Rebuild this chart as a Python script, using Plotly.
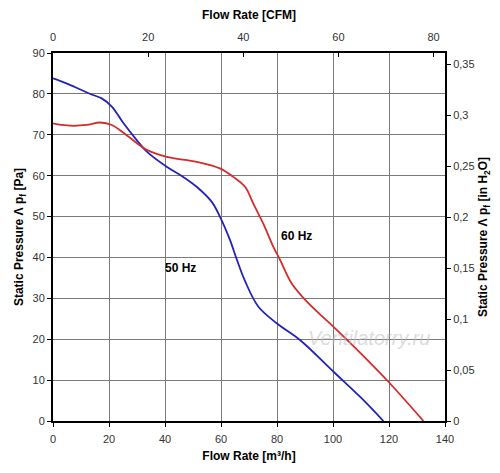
import plotly.graph_objects as go

# 50 Hz curve: flow [m3/h], static pressure [Pa]
flow_50 = [0, 5, 10, 14, 17.4, 21, 25, 29.9, 33.5, 40.6, 46.5, 51.3, 56.7, 59.6, 63.2,
           65.6, 68.6, 73.3, 79.9, 88.2, 100.1, 110, 118]
pa_50 = [83.8, 82.5, 81, 79.8, 78.9, 76.9, 73, 68.7, 65.9, 62.2, 59.7, 57.3, 53.6, 50, 44.3,
         39.6, 34.2, 28.0, 23.9, 19.8, 12.1, 5.7, 0]

# 60 Hz curve
flow_60 = [0, 3, 7.3, 12, 16.8, 21, 26.3, 33.5, 40.6, 51.3, 59.6, 64.4, 68.6, 71.5, 75.1,
           78.7, 81.1, 85.2, 91.2, 100.1, 110, 119.8, 132.3]
pa_60 = [72.8, 72.4, 72.2, 72.4, 73.0, 72.4, 69.9, 66.3, 64.6, 63.4, 61.8, 59.7, 57.3, 53.2, 48.3,
         42.6, 39.4, 33.7, 28.8, 23.1, 16.5, 9.6, 0]

M3H_PER_CFM = 1.699
PA_PER_INH2O = 249.09

x_ticks = [0, 20, 40, 60, 80, 100, 120, 140]
cfm_ticks = [0, 20, 40, 60, 80]
pa_ticks = [0, 10, 20, 30, 40, 50, 60, 70, 80, 90]
inh2o_ticks = [0, 0.05, 0.1, 0.15, 0.2, 0.25, 0.3, 0.35]

fig = go.Figure()
fig.add_trace(go.Scatter(x=flow_50, y=pa_50, mode="lines", line_shape="spline",
                         line=dict(color="#2323b8", width=1.8), name="50 Hz"))
fig.add_trace(go.Scatter(x=flow_60, y=pa_60, mode="lines", line_shape="spline",
                         line=dict(color="#d42c2c", width=1.8), name="60 Hz"))
# same curve in CFM / in H2O units, invisible, so the secondary axes exist
fig.add_trace(go.Scatter(x=[f / M3H_PER_CFM for f in flow_50],
                         y=[p / PA_PER_INH2O for p in pa_50],
                         xaxis="x2", yaxis="y2", mode="lines", opacity=0,
                         hoverinfo="skip", showlegend=False))

fig.add_annotation(x=45.4, y=37.4, text="<b>50 Hz</b>", showarrow=False,
                   font=dict(size=12, color="black"))
fig.add_annotation(x=86.8, y=45.2, text="<b>60 Hz</b>", showarrow=False,
                   font=dict(size=12, color="black"))
fig.add_annotation(x=113, y=20.3, text="<i>Ventilatorry.ru</i>", showarrow=False,
                   font=dict(size=20, color="rgba(190,190,190,0.55)"))

axis_font = dict(family="Liberation Sans, Arial", size=11, color="#333333")
title_font = dict(family="Liberation Sans, Arial", size=12, color="black")

# page body has an 8px margin, so the figure is a bit smaller than the window
fig.update_layout(
    width=492, height=465,
    margin=dict(l=45, r=55, t=45, b=52, autoexpand=False),
    plot_bgcolor="white", paper_bgcolor="white",
    showlegend=False,
    separators=", ",
    font=dict(family="Liberation Sans, Arial"),
    xaxis=dict(range=[0, 140], tickvals=x_ticks, showgrid=True, gridcolor="#7a7a7a",
               gridwidth=1, showline=True, linecolor="black", linewidth=2,
               ticks="outside", ticklen=4, tickcolor="black", tickfont=axis_font,
               zeroline=False, automargin=False, ticklabelstandoff=3,
               title=dict(text="<b>Flow Rate [m³/h]</b>", font=title_font, standoff=7)),
    xaxis2=dict(range=[0, 140 / M3H_PER_CFM], tickvals=cfm_ticks, overlaying="x",
                side="top", anchor="y", showgrid=False, showline=True, linecolor="black",
                linewidth=2, ticks="inside", ticklen=4, tickcolor="black",
                tickfont=axis_font, zeroline=False, automargin=False,
                ticklabelstandoff=6,
                title=dict(text="<b>Flow Rate [CFM]</b>", font=title_font, standoff=8)),
    yaxis=dict(range=[0, 90], tickvals=pa_ticks, showgrid=True, gridcolor="#7a7a7a",
               gridwidth=1, showline=True, linecolor="black", linewidth=2,
               ticks="outside", ticklen=4, tickcolor="black", tickfont=axis_font,
               zeroline=False, automargin=False,
               title=dict(text="<b>Static Pressure Λ p<sub>f</sub> [Pa]</b>",
                          font=title_font, standoff=6)),
    yaxis2=dict(range=[0, 90 / PA_PER_INH2O], tickvals=inh2o_ticks, overlaying="y",
                side="right", anchor="x", showgrid=False, showline=True,
                linecolor="black", linewidth=2, ticks="outside", ticklen=4,
                tickcolor="black", tickfont=axis_font, zeroline=False, automargin=False,
                title=dict(text="<b>Static Pressure Λ p<sub>f</sub> [in H<sub>2</sub>O]</b>",
                           font=title_font, standoff=5)),
)

fig.write_html("out.html")
